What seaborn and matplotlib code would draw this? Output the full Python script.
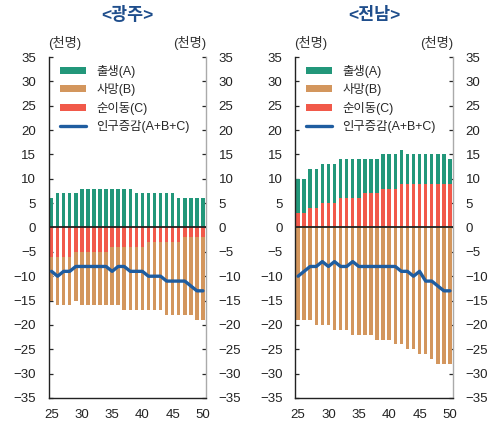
import matplotlib
matplotlib.use('Agg')
import matplotlib.pyplot as plt
import seaborn as sns

# x axis: year (20xx)
years = list(range(25, 51))

# 광주, thousand persons
gj_birth = [6, 7, 7, 7, 7, 8, 8, 8, 8, 8, 8, 8, 8, 8, 7, 7, 7, 7, 7, 7, 7, 6, 6, 6, 6, 6]
gj_death = [-9, -10, -10, -10, -10, -11, -11, -11, -11, -11, -12, -12, -13,
            -13, -13, -13, -14, -14, -14, -15, -15, -15, -16, -16, -17, -17]
gj_migr = [-6, -6, -6, -6, -5, -5, -5, -5, -5, -5, -4, -4, -4,
           -4, -4, -4, -3, -3, -3, -3, -3, -3, -2, -2, -2, -2]
gj_change = [-9, -10, -9, -9, -8, -8, -8, -8, -8, -8, -9, -8, -8,
             -9, -9, -9, -10, -10, -10, -11, -11, -11, -11, -12, -13, -13]

# 전남, thousand persons
jn_birth = [7, 7, 8, 8, 8, 8, 8, 8, 8, 8, 8, 7, 7, 7, 7, 7, 7, 7, 6, 6, 6, 6, 6, 6, 6, 5]
jn_death = [-19, -19, -19, -20, -20, -20, -21, -21, -21, -22, -22, -22, -22,
            -23, -23, -23, -24, -24, -25, -25, -26, -26, -27, -28, -28, -28]
jn_migr = [3, 3, 4, 4, 5, 5, 5, 6, 6, 6, 6, 7, 7, 7, 8, 8, 8, 9, 9, 9, 9, 9, 9, 9, 9, 9]
jn_change = [-10, -9, -8, -8, -7, -8, -7, -8, -8, -7, -8, -8, -8,
             -8, -8, -8, -8, -9, -9, -10, -9, -11, -11, -12, -13, -13]

labels = ['출생(A)', '사망(B)', '순이동(C)', '인구증감(A+B+C)']
colors = ['#22977A', '#D3965D', '#F1594A', '#1F5DA0']

sns.set_style('white')
plt.rcParams['font.family'] = ['Liberation Sans', 'Noto Sans CJK KR']
plt.rcParams['axes.unicode_minus'] = True

fig = plt.figure(figsize=(4.94, 4.24), dpi=100)
ax1 = fig.add_axes([48.5 / 494, 1 - 398 / 424, 157.5 / 494, 341 / 424])
ax2 = fig.add_axes([295 / 494, 1 - 398 / 424, 158 / 494, 341 / 424])


def panel(ax, title, birth, death, migr, change):
    # migration sits next to zero, births / deaths stacked beyond it
    up_base = [max(c, 0) for c in migr]
    down_base = [min(c, 0) for c in migr]
    sns.barplot(x=years, y=birth, bottom=up_base, native_scale=True, width=0.58,
                color=colors[0], saturation=1, errorbar=None, label=labels[0],
                linewidth=0, ax=ax)
    sns.barplot(x=years, y=death, bottom=down_base, native_scale=True, width=0.58,
                color=colors[1], saturation=1, errorbar=None, label=labels[1],
                linewidth=0, ax=ax)
    sns.barplot(x=years, y=migr, native_scale=True, width=0.58,
                color=colors[2], saturation=1, errorbar=None, label=labels[2],
                linewidth=0, ax=ax)
    ax.axhline(0, color='#222222', lw=1.3, zorder=3)
    sns.lineplot(x=years, y=change, color=colors[3], lw=2.4, label=labels[3],
                 ax=ax, zorder=4)

    ax.set_xlim(24.5, 50.5)
    ax.set_ylim(-35, 35)
    ax.set_yticks(range(-35, 36, 5))
    ax.set_xticks(range(25, 51, 5))
    ax.set_xticks([29.5, 34.5, 39.5, 44.5, 49.5], minor=True)
    ax.set_xlabel('')
    ax.set_ylabel('')

    ax.tick_params(axis='y', direction='in', length=3, width=0.9, left=True, right=True,
                   labelleft=True, labelright=True, labelsize=9.5, pad=9,
                   labelcolor='#222222')
    ax.tick_params(axis='x', which='major', length=0, labelsize=9.5, pad=8,
                   labelcolor='#222222')
    ax.tick_params(axis='x', which='minor', direction='in', length=3, width=0.9,
                   color='#222222')
    for t in ax.yaxis.get_major_ticks():
        t.tick1line.set_color('#222222')
        t.tick2line.set_color('#999999')

    ax.spines['top'].set_visible(False)
    ax.spines['left'].set_color('#222222')
    ax.spines['bottom'].set_color('#222222')
    ax.spines['right'].set_color('#aaaaaa')
    for s in ['left', 'bottom', 'right']:
        ax.spines[s].set_linewidth(1.0)

    handles, labs = ax.get_legend_handles_labels()
    order = [labs.index(l) for l in labels]
    ax.legend([handles[i] for i in order], labels, loc='upper left',
              bbox_to_anchor=(0.0, 1.01), frameon=False, fontsize=8.9,
              handlelength=2.1, handleheight=0.5, handletextpad=0.85,
              labelspacing=0.45, borderaxespad=0.5)

    ax.text(0.1, 1.04, '(천명)', transform=ax.transAxes, ha='center',
            va='center', fontsize=9.5, color='#333333')
    ax.text(1.0, 1.04, '(천명)', transform=ax.transAxes, ha='right',
            va='center', fontsize=9.5, color='#333333')
    pos = ax.get_position()
    fig.text((pos.x0 + pos.x1) / 2, 1 - 15 / 424, title, ha='center', va='center',
             fontsize=12.5, fontweight='bold', color='#1F4E8C')


panel(ax1, '<광주>', gj_birth, gj_death, gj_migr, gj_change)
panel(ax2, '<전남>', jn_birth, jn_death, jn_migr, jn_change)

fig.savefig('out.png', dpi=100, facecolor='white')
